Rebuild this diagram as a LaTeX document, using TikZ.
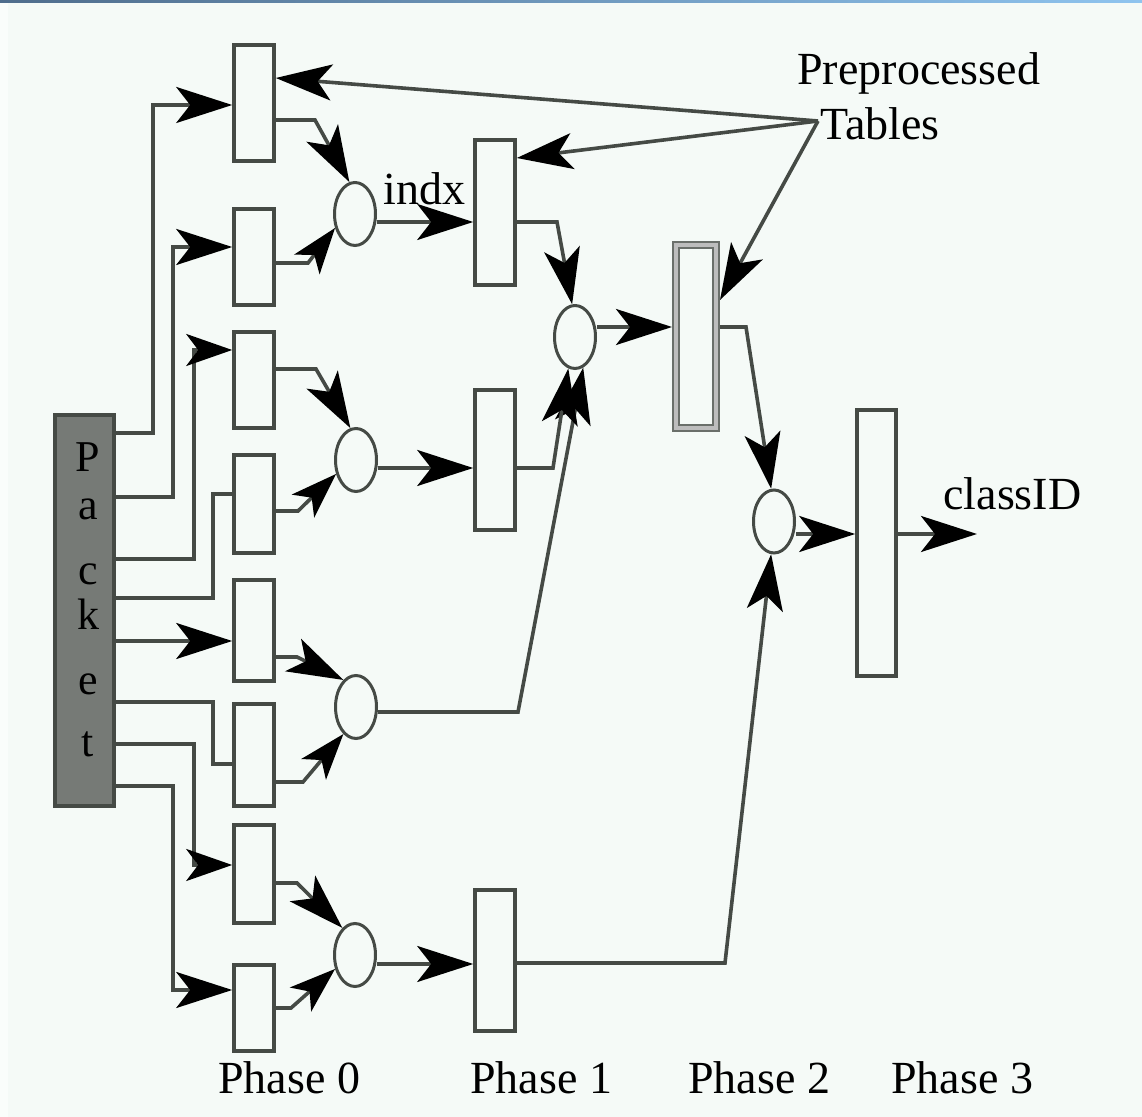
\documentclass[tikz,border=0pt]{standalone}
\usepackage{fontspec}
\setmainfont{Liberation Serif}
\usetikzlibrary{arrows.meta,shapes.geometric}
\definecolor{bg}{HTML}{F5FAF7}
\definecolor{ln}{HTML}{454A45}
\definecolor{pkfill}{HTML}{767A76}
\definecolor{barL}{HTML}{4F6D8C}
\definecolor{barR}{HTML}{8FC4EF}
\definecolor{ptwoin}{HTML}{BDBDBD}
\definecolor{ptwoout}{HTML}{6A6F6A}
\begin{document}
\begin{tikzpicture}[x=0.5pt,y=-0.5pt,
  box/.style={rectangle, draw=ln, line width=1.8pt, minimum width=20pt, inner sep=0pt},
  comb/.style={ellipse, draw=ln, line width=1.5pt, minimum width=20.5pt, minimum height=31.5pt, inner sep=0pt},
  conn/.style={draw=ln, line width=1.8pt},
  bigarr/.style={conn, -{Stealth[length=28pt,width=18pt,inset=7pt,color=black]}},
  smallarr/.style={conn, -{Stealth[length=23pt,width=16pt,inset=6pt,color=black]}},
  lbl/.style={font=\fontsize{23}{27}\selectfont, inner sep=0pt, anchor=base west},
  plet/.style={font=\fontsize{22}{26}\selectfont, inner sep=0pt, anchor=base},
]
% background
\useasboundingbox (0,0) rectangle (1142,1117);
\fill[bg] (0,0) rectangle (1142,1117);
\fill[white!55!bg] (0,0) rectangle (8,1117);
\shade[left color=barL, right color=barR] (0,0) rectangle (1142,3);

% packet
\node[box, fill=pkfill, draw=ln, minimum width=29.5pt, minimum height=195.5pt] (pk) at (84.5,610.5) {};
\node[plet] (lP) at (88,472) {P};
\node[plet] (la) at (88,520) {a};
\node[plet] (lc) at (88,585) {c};
\node[plet] (lk) at (88,630) {k};
\node[plet] (le) at (88,695) {e};
\node[plet] (lt) at (88,757) {t};

% phase 0 boxes
\node[box, minimum height=58pt]   (b1) at (254,103) {};
\node[box, minimum height=48pt]   (b2) at (254,257) {};
\node[box, minimum height=48pt]   (b3) at (254,380) {};
\node[box, minimum height=49pt]   (b4) at (254,504) {};
\node[box, minimum height=50.5pt] (b5) at (254,630.5) {};
\node[box, minimum height=51pt]   (b6) at (254,755) {};
\node[box, minimum height=49pt]   (b7) at (254,874) {};
\node[box, minimum height=43pt]   (b8) at (254,1008) {};

% combiners
\node[comb] (c1) at (355,214) {};
\node[comb] (c2) at (356,460) {};
\node[comb] (c3) at (356,707) {};
\node[comb] (c4) at (355,955) {};
\node[comb] (c5) at (575,337) {};
\node[comb] (c6) at (774,521.5) {};

% phase 1 boxes
\node[box, minimum height=72.5pt] (pa) at (495,212.5) {};
\node[box, minimum height=70pt]   (pb) at (495,460) {};
\node[box, minimum height=70.5pt] (pc) at (495,960.5) {};

% phase 2 box
\node[rectangle, draw=ptwoout, double=ptwoin, double distance=1.6pt, line width=1.3pt,
      minimum width=20pt, minimum height=91.5pt, inner sep=0pt, outer sep=2pt] (p2) at (696,336.5) {};

% phase 3 box
\node[box, minimum width=19.5pt, minimum height=133pt] (p3) at (876.5,543) {};

% labels
\node[lbl] (indx) at (383,205) {indx};
\node[lbl] (pre) at (797,85) {Preprocessed};
\node[lbl] (tab) at (820,140) {Tables};
\node[lbl] (cls) at (943,510) {classID};
\node[lbl] (ph0) at (218,1093) {Phase 0};
\node[lbl] (ph1) at (470,1093) {Phase 1};
\node[lbl] (ph2) at (688,1093) {Phase 2};
\node[lbl] (ph3) at (891,1093) {Phase 3};

% packet to phase 0
\draw[bigarr]   (pk.east |- 0,433) -| (153,105) -- (b1.west |- 0,105);
\draw[bigarr]   (pk.east |- 0,497) -| (173,247) -- (b2.west |- 0,247);
\draw[smallarr] (pk.east |- 0,559) -| (194,350) -- (b3.west |- 0,350);
\draw[conn]     (pk.east |- 0,598) -| (213,494) -- (b4.west |- 0,494);
\draw[bigarr]   (pk.east |- 0,641) -- (b5.west |- 0,641);
\draw[conn]     (pk.east |- 0,702) -| (213,764) -- (b6.west |- 0,764);
\draw[smallarr] (pk.east |- 0,744) -| (194,865) -- (b7.west |- 0,865);
\draw[bigarr]   (pk.east |- 0,786) -| (173,990) -- (b8.west |- 0,990);

% phase 0 to combiners
\draw[bigarr]   (b1.east |- 0,120) -- (315,120) -- (c1.100);
\draw[smallarr] (b2.east |- 0,263) -- (308,263) -- (c1.215);
\draw[bigarr]   (b3.east |- 0,369) -- (316,369) -- (c2.100);
\draw[smallarr] (b4.east |- 0,511) -- (298,511) -- (c2.215);
\draw[bigarr]   (b5.east |- 0,657) -- (297,657) -- (c3.115);
\draw[smallarr] (b6.east |- 0,782) -- (303,782) -- (c3.245);
\draw[bigarr]   (b7.east |- 0,883) -- (297,883) -- (c4.115);
\draw[smallarr] (b8.east |- 0,1008) -- (291,1008) -- (c4.215);

% combiners to phase 1
\draw[bigarr] (c1.east |- 0,222) -- (pa.west |- 0,222);
\draw[bigarr] (c2.east |- 0,468) -- (pb.west |- 0,468);
\draw[bigarr] (c4.east |- 0,964) -- (pc.west |- 0,964);
\draw[bigarr] (c3.east |- 0,712) -- (518,712) -- (c5.285);

% phase 1 to combiner
\draw[bigarr] (pa.east |- 0,222) -- (557,222) -- (c5.95);
\draw[bigarr] (pb.east |- 0,468) -- (553,468) -- (c5.258);
\draw[bigarr] (c5.east |- 0,327) -- (p2.west |- 0,327);

% phase 2
\draw[bigarr] (p2.east |- 0,327) -- (746,327) -- (c6.95);
\draw[bigarr] (pc.east |- 0,963) -- (725,963) -- (c6.265);
\draw[bigarr] (c6.east |- 0,534) -- (p3.west |- 0,534);

% phase 3 out
\coordinate (out) at (977,534);
\draw[bigarr] (p3.east |- 0,534) -- (out);

% preprocessed tables
\coordinate (src) at (818,121);
\draw[bigarr] (src) -- (b1.east |- 0,78);
\draw[bigarr] (src) -- (pa.east |- 0,158);
\draw[bigarr] (src) -- (p2.east |- 0,300);
\end{tikzpicture}
\end{document}
